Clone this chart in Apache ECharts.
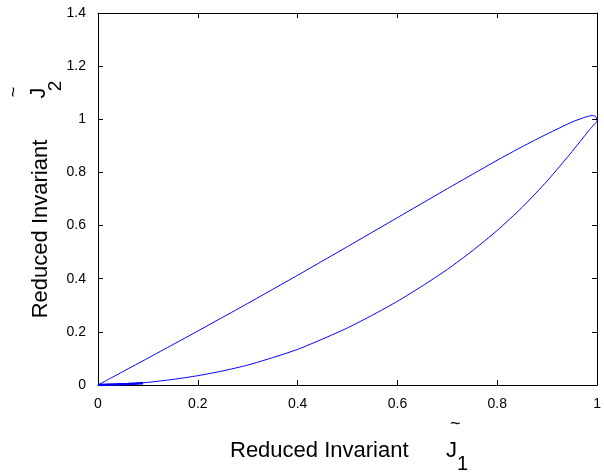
<!DOCTYPE html>
<html>
<head>
<meta charset="utf-8">
<script src="https://cdn.jsdelivr.net/npm/echarts@6/dist/echarts.min.js"></script>
<style>html,body{margin:0;padding:0;background:#fff}#c{width:604px;height:474px}</style>
</head>
<body>
<div id="c"></div>
<script>
var upperX = [0, 0.05, 0.1, 0.15, 0.2, 0.25, 0.3, 0.35, 0.4, 0.45, 0.5, 0.55, 0.6, 0.65, 0.7, 0.75, 0.8, 0.85, 0.9, 0.95, 0.97, 0.98, 0.99, 0.996, 0.999, 1.0];
var upperY = [0, 0.0505, 0.101, 0.152, 0.203, 0.255, 0.307, 0.36, 0.413, 0.467, 0.521, 0.5755, 0.63, 0.6845, 0.739, 0.7925, 0.846, 0.897, 0.945, 0.99, 1.004, 1.01, 1.014, 1.012, 1.005, 0.996];
var lowerX = [0.998, 0.993, 0.985, 0.97, 0.95, 0.9, 0.85, 0.8, 0.75, 0.7, 0.65, 0.6, 0.55, 0.5, 0.45, 0.4, 0.35, 0.3, 0.25, 0.2, 0.15, 0.1, 0.05, 0];
var lowerY = [0.988, 0.978, 0.961, 0.926, 0.879, 0.768, 0.669, 0.582, 0.505, 0.435, 0.373, 0.315, 0.263, 0.215, 0.173, 0.134, 0.103, 0.075, 0.053, 0.035, 0.021, 0.01, 0.003, 0];
var nearX = [0, 0.03, 0.06, 0.09];
var nearY = [0, 0.002, 0.004, 0.007];
var xTicks = [0, 0.2, 0.4, 0.6, 0.8, 1];
var yTicks = [0, 0.2, 0.4, 0.6, 0.8, 1, 1.2, 1.4];

var loop = [];
for (var i = 0; i < upperX.length; i++) loop.push([upperX[i], upperY[i]]);
for (var j = 0; j < lowerX.length; j++) loop.push([lowerX[j], lowerY[j]]);
var near = nearX.map(function (x, k) { return [x, nearY[k]]; });

var FONT = 'Liberation Sans, Arial, Helvetica, sans-serif';
var chart = echarts.init(document.getElementById('c'), null, {renderer: 'canvas'});
function fmt(v) { return String(+v.toFixed(1)); }
var axisLine = {show: true, onZero: false, lineStyle: {color: '#000', width: 1}};
var tick = {show: true, inside: true, length: 5, lineStyle: {color: '#000'}};
chart.setOption({
  animation: false,
  backgroundColor: '#fff',
  grid: {left: 98, right: 5, top: 13, bottom: 89, containLabel: false},
  xAxis: [
    {type: 'value', min: 0, max: 1, interval: 0.2, position: 'bottom',
     axisLine: axisLine, axisTick: tick, splitLine: {show: false},
     axisLabel: {color: '#000', fontSize: 14, fontFamily: FONT, margin: 12, formatter: fmt}},
    {type: 'value', min: 0, max: 1, interval: 0.2, position: 'top',
     axisLine: axisLine, axisTick: tick, splitLine: {show: false}, axisLabel: {show: false}}
  ],
  yAxis: [
    {type: 'value', min: 0, max: 1.4, interval: 0.2, position: 'left',
     axisLine: axisLine, axisTick: tick, splitLine: {show: false},
     axisLabel: {color: '#000', fontSize: 14, fontFamily: FONT, margin: 12, formatter: fmt}},
    {type: 'value', min: 0, max: 1.4, interval: 0.2, position: 'right',
     axisLine: axisLine, axisTick: tick, splitLine: {show: false}, axisLabel: {show: false}}
  ],
  series: [
    {type: 'line', data: loop, showSymbol: false, symbol: 'none', smooth: 0.2,
     lineStyle: {color: '#0000ff', width: 1}},
    {type: 'line', data: near, showSymbol: false, symbol: 'none',
     lineStyle: {color: '#0000ff', width: 2.5}}
  ],
  graphic: [
    {type: 'text', left: 230, top: 440, style: {text: 'Reduced Invariant', font: '22px ' + FONT, fill: '#000'}},
    {type: 'text', left: 446, top: 440, style: {text: 'J', font: '22px ' + FONT, fill: '#000'}},
    {type: 'text', left: 450, top: 415, style: {text: '~', font: '18px ' + FONT, fill: '#000'}},
    {type: 'text', left: 457, top: 454, style: {text: '1', font: '20px ' + FONT, fill: '#000'}},
    {type: 'text', x: 41, y: 229, rotation: Math.PI / 2,
     style: {text: 'Reduced Invariant', font: '22px ' + FONT, fill: '#000', align: 'center', verticalAlign: 'middle'}},
    {type: 'text', x: 39, y: 93, rotation: Math.PI / 2,
     style: {text: 'J', font: '22px ' + FONT, fill: '#000', align: 'center', verticalAlign: 'middle'}},
    {type: 'text', x: 14, y: 92, rotation: Math.PI / 2,
     style: {text: '~', font: '18px ' + FONT, fill: '#000', align: 'center', verticalAlign: 'middle'}},
    {type: 'text', x: 56, y: 86, rotation: Math.PI / 2,
     style: {text: '2', font: '19px ' + FONT, fill: '#000', align: 'center', verticalAlign: 'middle'}}
  ]
});
</script>
</body>
</html>
